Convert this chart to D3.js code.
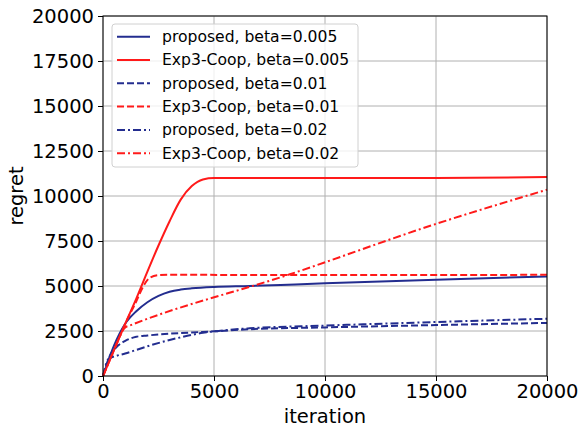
<!DOCTYPE html>
<html>
<head>
<meta charset="utf-8">
<script src="https://cdn.jsdelivr.net/npm/d3@7"></script>
<style>
  body { margin: 0; background: #fff; }
  text { font-family: "DejaVu Sans", sans-serif; }
</style>
</head>
<body>
<svg id="chart" width="581" height="429"></svg>
<script>
// data (iteration, regret)
const proposed005 = [[0,0],[500,1700],[1000,2900],[1500,3600],[2000,4100],[2500,4450],[3000,4680],[3500,4800],[4000,4870],[5000,4950],[6600,5000],[8650,5090],[10000,5150],[15000,5350],[20000,5530]];
const exp3005 = [[0,0],[500,1450],[1000,2900],[1500,4300],[2000,5800],[2500,7250],[3000,8600],[3500,9800],[4000,10550],[4500,10920],[5000,11000],[6000,11000],[10000,11000],[15000,11000],[20000,11050]];
const proposed01 = [[0,0],[300,1100],[600,1600],[1000,1950],[1500,2180],[2000,2250],[3000,2350],[4000,2420],[5000,2480],[6600,2600],[10000,2700],[15000,2830],[20000,2950]];
const exp301 = [[0,0],[500,1450],[1000,2900],[1500,4150],[1800,4950],[2100,5450],[2500,5600],[3000,5620],[10000,5610],[20000,5620]];
const proposed02 = [[0,0],[250,950],[600,1120],[1000,1250],[1500,1450],[2000,1650],[3000,2000],[3500,2150],[4500,2400],[5000,2480],[6600,2650],[10000,2800],[15000,3000],[20000,3180]];
const exp302 = [[0,0],[500,1450],[1000,2700],[1200,2800],[8420,5650],[15000,8450],[20000,10350]];

const xTicks = [0, 5000, 10000, 15000, 20000];
const yTicks = [0, 2500, 5000, 7500, 10000, 12500, 15000, 17500, 20000];

const blue = "#232d8f", red = "#ff1a1a";
const series = [
  { name: "proposed, beta=0.005", data: proposed005, color: blue, dash: null },
  { name: "Exp3-Coop, beta=0.005", data: exp3005, color: red, dash: null },
  { name: "proposed, beta=0.01", data: proposed01, color: blue, dash: "7,3" },
  { name: "Exp3-Coop, beta=0.01", data: exp301, color: red, dash: "7,3" },
  { name: "proposed, beta=0.02", data: proposed02, color: blue, dash: "8,3,2,3" },
  { name: "Exp3-Coop, beta=0.02", data: exp302, color: red, dash: "8,3,2,3" }
];

const margin = { top: 16, right: 34, bottom: 53, left: 103 };
const width = 581, height = 429;
const svg = d3.select("#chart");

const x = d3.scaleLinear().domain([0, 20000]).range([margin.left, width - margin.right]);
const y = d3.scaleLinear().domain([0, 20000]).range([height - margin.bottom, margin.top]);

// grid
svg.append("g").selectAll("line").data(xTicks).join("line")
  .attr("x1", d => x(d)).attr("x2", d => x(d))
  .attr("y1", y(0)).attr("y2", y(20000))
  .attr("stroke", "#b0b0b0").attr("stroke-width", 1);
svg.append("g").selectAll("line").data(yTicks).join("line")
  .attr("x1", x(0)).attr("x2", x(20000))
  .attr("y1", d => y(d)).attr("y2", d => y(d))
  .attr("stroke", "#b0b0b0").attr("stroke-width", 1);

// lines
const line = d3.line().x(d => x(d[0])).y(d => y(d[1])).curve(d3.curveMonotoneX);
const plot = svg.append("g");
series.forEach(s => {
  plot.append("path")
    .attr("d", line(s.data))
    .attr("fill", "none")
    .attr("stroke", s.color)
    .attr("stroke-width", 2)
    .attr("stroke-dasharray", s.dash);
});

// axes
const xAxis = svg.append("g").attr("transform", `translate(0,${y(0)})`)
  .call(d3.axisBottom(x).tickValues(xTicks).tickFormat(d3.format("d")).tickSize(5).tickPadding(3));
const yAxis = svg.append("g").attr("transform", `translate(${x(0)},0)`)
  .call(d3.axisLeft(y).tickValues(yTicks).tickFormat(d3.format("d")).tickSize(5).tickPadding(4));
[xAxis, yAxis].forEach(a => {
  a.select(".domain").remove();
  a.selectAll("text").attr("font-size", 19.5).attr("fill", "#000")
    .style("font-family", "DejaVu Sans, sans-serif");
  a.selectAll(".tick line").attr("stroke", "#000").attr("stroke-width", 1);
});

// frame
svg.append("rect")
  .attr("x", x(0)).attr("y", y(20000))
  .attr("width", x(20000) - x(0)).attr("height", y(0) - y(20000))
  .attr("fill", "none").attr("stroke", "#000").attr("stroke-width", 1);

// axis labels
svg.append("text")
  .attr("x", (x(0) + x(20000)) / 2).attr("y", 423)
  .attr("text-anchor", "middle").attr("font-size", 19.5)
  .text("iteration");
svg.append("text")
  .attr("transform", `translate(23,${(y(0) + y(20000)) / 2}) rotate(-90)`)
  .attr("text-anchor", "middle").attr("font-size", 19.5)
  .text("regret");

// legend
const legend = svg.append("g");
legend.append("rect")
  .attr("x", 112).attr("y", 24).attr("width", 246).attr("height", 143)
  .attr("rx", 3).attr("fill", "#fff").attr("fill-opacity", 0.8)
  .attr("stroke", "#d0d0d0");
series.forEach((s, i) => {
  const cy = 36.7 + i * 23.3;
  legend.append("line")
    .attr("x1", 117).attr("x2", 150).attr("y1", cy).attr("y2", cy)
    .attr("stroke", s.color).attr("stroke-width", 2)
    .attr("stroke-dasharray", s.dash);
  legend.append("text")
    .attr("x", 162).attr("y", cy).attr("dy", "0.35em")
    .attr("font-size", 15.6)
    .text(s.name);
});
</script>
</body>
</html>
